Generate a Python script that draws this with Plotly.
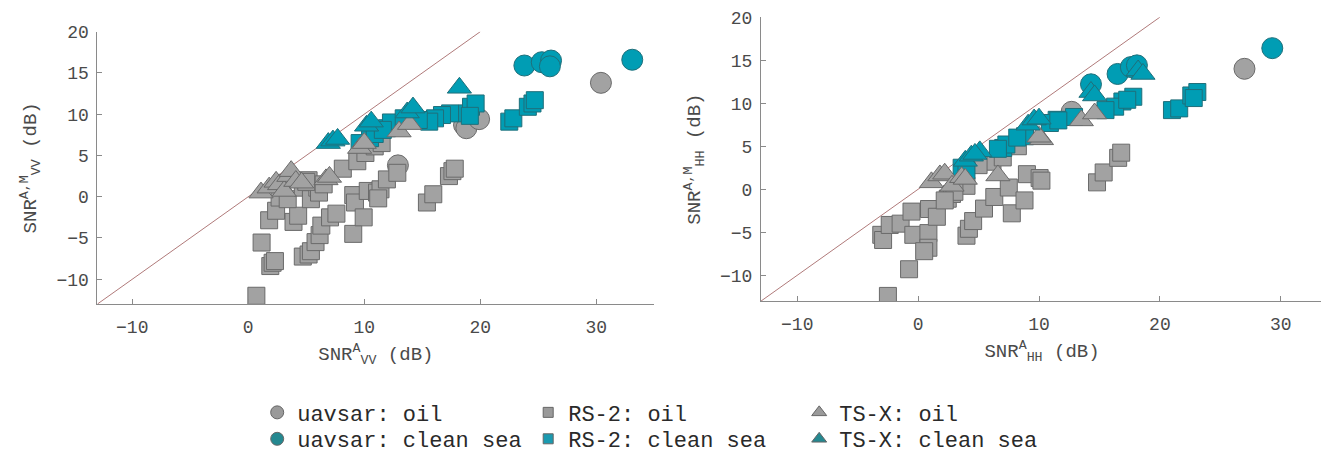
import plotly.graph_objects as go

# ---------------- data : left panel (VV) ----------------
uav_oil_vv_x = [12.9, 18.6, 18.8, 19.9, 30.4]
uav_oil_vv_y = [3.8, 8.7, 8.3, 9.4, 13.8]
uav_sea_vv_x = [23.8, 25.3, 26.1, 26.0, 33.1]
uav_sea_vv_y = [15.9, 16.3, 16.5, 15.8, 16.6]

rs2_oil_vv_x = [0.7, 1.15, 1.9, 2.1, 2.3, 1.8, 2.4, 3.9, 4.3, 2.7, 3.4, 4.7, 5.4, 5.95, 5.2, 6.1,
                4.7, 5.2, 5.4, 5.8, 6.15, 6.3, 7.05, 7.6, 8.15, 9.05, 9.2, 9.05, 9.95, 10.3, 11.1,
                11.4, 11.2, 11.95, 12.85, 15.4, 15.95, 17.3, 17.6, 17.8, 9.4, 10.1, 10.9, 11.5, 5.0, 6.5]
rs2_oil_vv_y = [-12.0, -5.55, -8.4, -8.0, -7.8, -2.85, -1.7, -3.05, -2.3, -0.1, -0.3, 1.1, -0.3, 1.1, 2.0, 0.5,
                -7.25, -7.0, -6.6, -5.5, -4.65, -3.5, -2.5, -2.05, 3.4, 0.2, -0.7, -4.5, -2.5, 0.7, 0.5,
                0.9, -0.2, 2.1, 2.9, -0.7, 0.3, 2.5, 3.1, 3.4, 4.3, 5.3, 6.1, 6.5, 1.8, 1.5]
rs2_sea_vv_x = [22.5, 22.85, 24.1, 24.5, 24.7, 18.85, 19.2, 19.6, 19.1, 17.4, 16.7, 16.1, 15.6, 12.5,
                11.95, 12.3, 10.5, 9.6, 13.4, 14.7, 10.9, 11.6]
rs2_sea_vv_y = [9.1, 9.5, 10.9, 11.3, 11.7, 10.1, 10.9, 11.3, 9.8, 10.1, 9.9, 9.5, 9.1, 8.7,
                8.3, 9.0, 7.1, 6.5, 9.5, 9.3, 7.6, 8.1]
tsx_oil_vv_x = [1.1, 1.8, 2.4, 2.7, 3.1, 3.5, 3.7, 4.1, 4.6, 6.7, 7.0, 9.6, 10.0, 13.0, 13.9]
tsx_oil_vv_y = [0.5, 1.1, 1.8, 1.5, 0.7, 2.5, 3.1, 1.9, 1.7, 2.1, 2.4, 5.9, 6.5, 7.9, 8.8]
tsx_sea_vv_x = [6.9, 7.3, 7.7, 10.2, 10.6, 13.7, 14.2, 18.2]
tsx_sea_vv_y = [6.5, 6.8, 7.0, 8.6, 9.1, 10.2, 10.8, 13.2]

# ---------------- data : right panel (HH) ----------------
uav_oil_hh_x = [12.7, 27.0]
uav_oil_hh_y = [9.0, 14.0]
uav_sea_hh_x = [14.3, 16.5, 17.6, 18.1, 29.3]
uav_sea_hh_y = [12.2, 13.4, 14.2, 14.4, 16.4]

rs2_oil_hh_x = [-2.5, -0.75, -3.05, -2.9, -2.35, -1.45, -0.4, -0.55, 0.85, 0.85, 0.5, 0.9, 1.55, 2.45,
                2.8, 4.0, 4.0, 4.2, 4.55, 5.45, 6.3, 7.5, 7.75, 8.8, 9.0, 10.05, 10.2, 14.8, 15.35,
                16.55, 16.8, 6.15, 7.0, 8.25, 3.0, 5.0, 2.2]
rs2_oil_hh_y = [-12.4, -9.3, -5.3, -5.9, -4.15, -4.0, -5.3, -2.6, -5.1, -6.8, -7.2, -2.3, -3.2, -1.1,
                -0.55, 0.4, -5.4, -4.6, -3.7, -2.25, -0.9, 0.2, -2.8, -1.3, 1.75, 1.3, 1.0, 0.8, 1.95,
                3.65, 4.25, 3.2, 3.7, 5.0, -0.3, 2.8, -1.3]
rs2_sea_hh_x = [21.0, 21.6, 22.6, 23.1, 22.8, 16.9, 17.8, 16.3, 15.5, 11.46, 10.9, 8.84, 7.04, 7.3,
                6.6, 3.6, 4.0, 12.9, 17.3, 11.6, 8.2]
rs2_sea_hh_y = [9.2, 9.4, 10.9, 11.3, 10.6, 10.2, 10.75, 9.6, 9.2, 8.07, 7.7, 6.16, 4.8, 5.2,
                4.7, 2.5, 2.2, 8.4, 10.4, 8.0, 6.0]
tsx_oil_hh_x = [1.1, 1.8, 2.2, 2.8, 3.6, 3.9, 6.6, 10.2, 10.0, 13.5, 14.6]
tsx_oil_hh_y = [0.8, 1.6, 1.8, 0.4, 1.4, 1.2, 1.6, 5.8, 6.1, 8.0, 8.8]
tsx_sea_hh_x = [3.9, 4.4, 5.1, 4.7, 9.1, 9.6, 10.0, 14.3, 14.6, 18.2, 18.6]
tsx_sea_hh_y = [3.3, 3.9, 4.4, 4.1, 7.5, 8.1, 8.2, 11.3, 10.9, 13.8, 13.4]

# identity line endpoints (data values)
diag = [-13, 20]

x_ticks = [-10, 0, 10, 20, 30]
y_ticks = [-10, -5, 0, 5, 10, 15, 20]

legend_names = ["uavsar: oil", "uavsar: clean sea", "RS-2: oil", "RS-2: clean sea",
                "TS-X: oil", "TS-X: clean sea"]

# ---------------- styles ----------------
GRAY = "#a2a2a2"
GRAY_EDGE = "#6a6a6a"
TEAL = "#009db4"
TEAL_EDGE = "#1f6f7a"
LEG_TEAL = "#248890"
FONT = "Liberation Mono"

fig = go.Figure()


def add_panel(xa, ya, groups):
    fig.add_trace(go.Scatter(x=diag, y=diag, mode="lines", xaxis=xa, yaxis=ya,
                             line=dict(color="#b07a7a", width=1), showlegend=False,
                             hoverinfo="skip"))
    for gx, gy, sym, size, fill, edge in groups:
        fig.add_trace(go.Scatter(x=gx, y=gy, mode="markers", xaxis=xa, yaxis=ya,
                                 showlegend=False,
                                 marker=dict(symbol=sym, size=size, color=fill,
                                             line=dict(color=edge, width=1))))


add_panel("x", "y", [
    (uav_oil_vv_x, uav_oil_vv_y, "circle", 21, GRAY, GRAY_EDGE),
    (uav_sea_vv_x, uav_sea_vv_y, "circle", 21, TEAL, TEAL_EDGE),
    (rs2_oil_vv_x, rs2_oil_vv_y, "square", 17, GRAY, GRAY_EDGE),
    (rs2_sea_vv_x, rs2_sea_vv_y, "square", 17, TEAL, TEAL_EDGE),
    (tsx_oil_vv_x, tsx_oil_vv_y, "triangle-up", 21, GRAY, GRAY_EDGE),
    (tsx_sea_vv_x, tsx_sea_vv_y, "triangle-up", 21, TEAL, TEAL_EDGE),
])
add_panel("x2", "y2", [
    (uav_oil_hh_x, uav_oil_hh_y, "circle", 21, GRAY, GRAY_EDGE),
    (uav_sea_hh_x, uav_sea_hh_y, "circle", 21, TEAL, TEAL_EDGE),
    (rs2_oil_hh_x, rs2_oil_hh_y, "square", 17, GRAY, GRAY_EDGE),
    (rs2_sea_hh_x, rs2_sea_hh_y, "square", 17, TEAL, TEAL_EDGE),
    (tsx_oil_hh_x, tsx_oil_hh_y, "triangle-up", 21, GRAY, GRAY_EDGE),
    (tsx_sea_hh_x, tsx_sea_hh_y, "triangle-up", 21, TEAL, TEAL_EDGE),
])

# legend entries (two rows, via two legends)
leg_specs = [
    (legend_names[0], "circle", 13, "#9a9a9a", "legend"),
    (legend_names[2], "square", 10, "#9a9a9a", "legend"),
    (legend_names[4], "triangle-up", 13, "#9a9a9a", "legend"),
    (legend_names[1], "circle", 13, LEG_TEAL, "legend2"),
    (legend_names[3], "square", 10, "#1a9ab0", "legend2"),
    (legend_names[5], "triangle-up", 13, LEG_TEAL, "legend2"),
]
for name, sym, size, col, lg in leg_specs:
    fig.add_trace(go.Scatter(x=[None], y=[None], mode="markers", name=name, legend=lg,
                             marker=dict(symbol=sym, size=size, color=col,
                                         line=dict(color="#666666", width=1))))

axis_common = dict(showline=True, linecolor="#8a8a8a", linewidth=1, ticks="inside",
                   ticklen=5, tickcolor="#8a8a8a", showgrid=False, zeroline=False,
                   automargin=False,
                   tickfont=dict(family=FONT, size=18, color="#4a4a4a"))
title_font = dict(family=FONT, size=19, color="#4a4a4a")
leg_font = dict(family=FONT, size=22, color="#2a2a2a")

fig.update_layout(
    width=1329, height=452, autosize=False,
    margin=dict(l=0, r=0, t=0, b=0),
    paper_bgcolor="white", plot_bgcolor="white",
    xaxis=dict(domain=[0.0673, 0.4863], range=[-13, 35], tickvals=x_ticks, anchor="y",
               ticklabelstandoff=6,
               title=dict(text="SNR<sup>A</sup><sub>VV</sub> (dB)", font=title_font, standoff=10),
               **axis_common),
    yaxis=dict(domain=[0.3363, 0.9469], range=[-13, 20], tickvals=y_ticks, anchor="x",
               ticklabelstandoff=4,
               title=dict(text="SNR<sup>A,M</sup><sub>VV</sub> (dB)", font=title_font, standoff=14),
               **axis_common),
    xaxis2=dict(domain=[0.5666, 0.9895], range=[-13, 33.5], tickvals=x_ticks, anchor="y2",
                ticklabelstandoff=6,
                title=dict(text="SNR<sup>A</sup><sub>HH</sub> (dB)", font=title_font, standoff=10),
                **axis_common),
    yaxis2=dict(domain=[0.3429, 0.9794], range=[-13, 20], tickvals=y_ticks, anchor="x2",
                ticklabelstandoff=4,
                title=dict(text="SNR<sup>A,M</sup><sub>HH</sub> (dB)", font=title_font, standoff=14),
                **axis_common),
    legend=dict(orientation="h", x=0.1875, xanchor="left", y=0.0929, yanchor="middle",
                entrywidth=226, entrywidthmode="pixels", bgcolor="rgba(0,0,0,0)",
                font=leg_font),
    legend2=dict(orientation="h", x=0.1875, xanchor="left", y=0.0332, yanchor="middle",
                 entrywidth=226, entrywidthmode="pixels", bgcolor="rgba(0,0,0,0)",
                 font=leg_font),
)

fig.write_html("out.html")
